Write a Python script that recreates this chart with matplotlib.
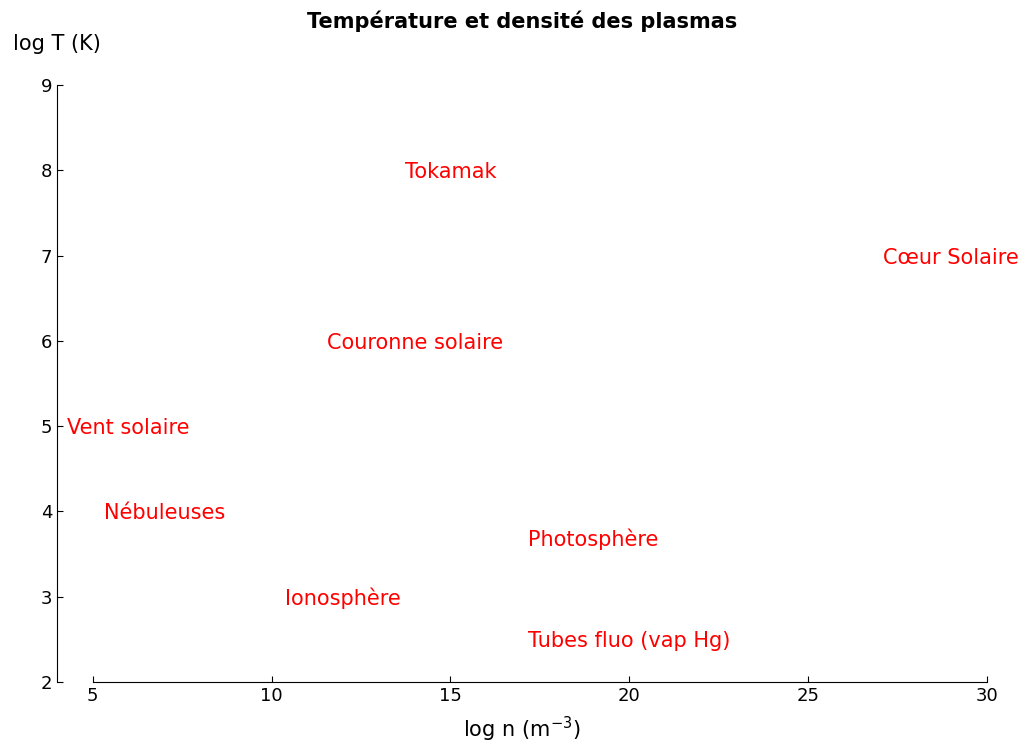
import matplotlib.pyplot as plt

# positions des plasmas : (log n, log T)
noms = ["Tokamak", "Cœur Solaire", "Couronne solaire", "Vent solaire",
        "Nébuleuses", "Photosphère", "Ionosphère", "Tubes fluo (vap Hg)"]
log_n = [15, 29, 14, 6, 7, 19, 12, 20]
log_T = [8, 7, 6, 5, 4, 3.7, 3, 2.5]

x_ticks = [5, 10, 15, 20, 25, 30]
y_ticks = [2, 3, 4, 5, 6, 7, 8, 9]

fig = plt.figure(figsize=(10.22, 7.43), dpi=100)
ax = fig.add_axes([0.0558, 0.0821, 0.91, 0.8035])

for nom, x, y in zip(noms, log_n, log_T):
    ax.text(x, y, nom, color='red', fontsize=15, ha='center', va='center_baseline')

ax.set_xlim(4, 30)
ax.set_ylim(2, 9)
ax.set_xticks(x_ticks)
ax.set_yticks(y_ticks)
ax.spines['top'].set_visible(False)
ax.spines['right'].set_visible(False)
ax.spines['bottom'].set_bounds(5, 30)
ax.tick_params(direction='in', labelsize=13, length=4.5)

ax.set_title("Température et densité des plasmas", fontsize=15,
             fontweight='bold', pad=41)
ax.set_xlabel("log n (m$^{-3}$)", fontsize=15, labelpad=7)
ax.set_ylabel("log T (K)", fontsize=15, rotation=0)
ax.yaxis.set_label_coords(0.0, 1.052)

fig.savefig("out.png", dpi=100)
